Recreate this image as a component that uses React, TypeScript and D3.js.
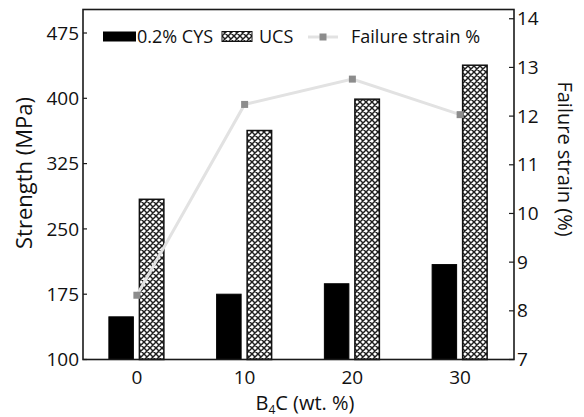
import React from "react";
import * as d3 from "d3";

const categories = ["0", "10", "20", "30"];
const cysValues = [149, 175, 187, 209];
const ucsValues = [284, 363, 399, 438];
const strainValues = [8.32, 12.24, 12.76, 12.03];
const leftTicks = [100, 175, 250, 325, 400, 475];
const rightTicks = [7, 8, 9, 10, 11, 12, 13, 14];
const seriesKeys = ["cys", "ucs"];

const W = 584;
const H = 417;
const L = 83;
const R = 514;
const T = 9.5;
const B = 359.5;
const FONT = "'Open Sans', 'DejaVu Sans', sans-serif";

export default function App() {
  const x = d3.scaleBand<string>().domain(categories).range([L, R]).padding(0);
  const sub = d3.scaleBand<string>().domain(seriesKeys).range([-28, 27]).paddingInner(0.197).paddingOuter(0);
  const yL = d3.scaleLinear().domain([100, 502]).range([B, T]);
  const yR = d3.scaleLinear().domain([7, 14.19]).range([B, T]);
  const cx = (c: string) => (x(c) as number) + x.bandwidth() / 2;

  const line = d3
    .line<number>()
    .x((_, i) => cx(categories[i]))
    .y((d) => yR(d));

  const bw = sub.bandwidth();
  const ms = 7;

  return (
    <svg width={W} height={H} style={{ position: "absolute", left: 0, top: 0, background: "#fff" }} fontFamily={FONT}>
      <defs>
        <pattern id="hatch" patternUnits="userSpaceOnUse" width={6} height={6}>
          <rect width={6} height={6} fill="#fff" />
          <path d="M0,0 L6,6 M6,0 L0,6 M-1,5 L1,7 M5,-1 L7,1 M-1,1 L1,-1 M5,7 L7,5" stroke="#1e1e1e" strokeWidth={1.45} />
        </pattern>
      </defs>

      {/* bars */}
      {categories.map((c, i) => (
        <g key={c}>
          <rect x={cx(c) + (sub("cys") as number)} y={yL(cysValues[i])} width={bw} height={yL(100) - yL(cysValues[i])} fill="#000" stroke="#000" strokeWidth={1} />
          <rect x={cx(c) + (sub("ucs") as number)} y={yL(ucsValues[i])} width={bw} height={yL(100) - yL(ucsValues[i])} fill="url(#hatch)" stroke="#111" strokeWidth={1.5} />
        </g>
      ))}

      {/* strain line */}
      <path d={line(strainValues) || ""} fill="none" stroke="#e2e2e2" strokeWidth={3} />
      {strainValues.map((v, i) => (
        <rect key={i} x={cx(categories[i]) - ms / 2} y={yR(v) - ms / 2} width={ms} height={ms} fill="#8c8c8c" />
      ))}

      {/* frame */}
      <rect x={L} y={T} width={R - L} height={B - T} fill="none" stroke="#1a1a1a" strokeWidth={1.6} />

      {/* left ticks */}
      {leftTicks.map((t) => (
        <g key={"l" + t}>
          <line x1={L} x2={L + 4} y1={yL(t)} y2={yL(t)} stroke="#1a1a1a" strokeWidth={1.2} />
          <text x={L - 4} y={yL(t)} dy="0.35em" textAnchor="end" fontSize={19} fill="#111">
            {t}
          </text>
        </g>
      ))}

      {/* right ticks */}
      {rightTicks.map((t) => (
        <g key={"r" + t}>
          <line x1={R - 5} x2={R} y1={yR(t)} y2={yR(t)} stroke="#1a1a1a" strokeWidth={1.2} />
          <text x={R + 3} y={yR(t)} dy="0.35em" textAnchor="start" fontSize={19} fill="#111">
            {t}
          </text>
        </g>
      ))}

      {/* x labels */}
      {categories.map((c) => (
        <text key={"x" + c} x={cx(c)} y={384} textAnchor="middle" fontSize={19} fill="#111">
          {c}
        </text>
      ))}

      {/* axis titles */}
      <text transform={`translate(32,173) rotate(-90)`} textAnchor="middle" fontSize={22} fill="#111">
        Strength (MPa)
      </text>
      <text transform={`translate(558,159) rotate(90)`} textAnchor="middle" fontSize={20} fill="#111" dy="0">
        Failure strain (%)
      </text>
      <text x={305} y={410} textAnchor="middle" fontSize={20} fill="#111">
        B<tspan fontSize={12} dy={4}>4</tspan>
        <tspan dy={-4}>C (wt. %)</tspan>
      </text>

      {/* legend */}
      <g>
        <rect x={103} y={31.5} width={33} height={10} fill="#000" />
        <text x={137} y={37} dy="0.35em" fontSize={18} fill="#111">0.2% CYS</text>
        <rect x={222} y={31.5} width={30} height={10} fill="url(#hatch)" stroke="#111" strokeWidth={1} />
        <text x={259} y={37} dy="0.35em" fontSize={18} fill="#111">UCS</text>
        <line x1={308} x2={338} y1={37} y2={37} stroke="#e2e2e2" strokeWidth={3} />
        <rect x={323 - ms / 2} y={37 - ms / 2} width={ms} height={ms} fill="#8c8c8c" />
        <text x={351} y={37} dy="0.35em" fontSize={18} fill="#111">Failure strain %</text>
      </g>
    </svg>
  );
}
